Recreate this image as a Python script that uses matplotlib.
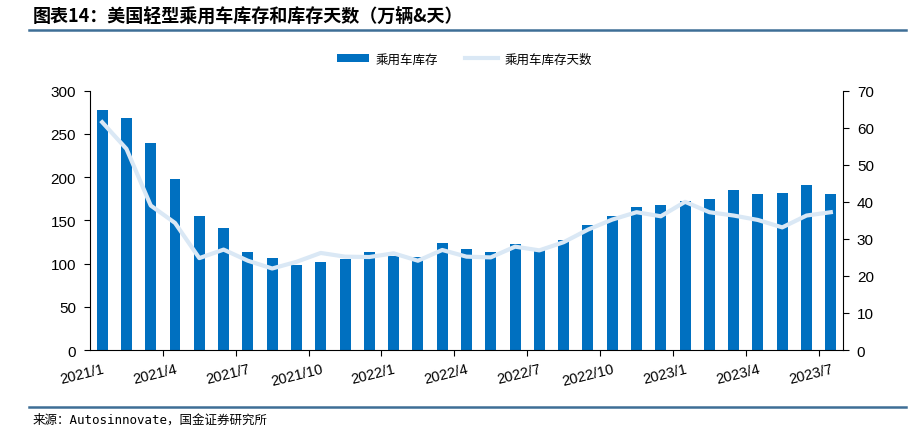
import matplotlib
matplotlib.use("Agg")
import matplotlib.pyplot as plt
import numpy as np

plt.rcParams['font.family'] = ['Liberation Sans', 'Noto Sans CJK SC', 'DejaVu Sans']

# 2021/1 - 2023/7, monthly
months = [f"{y}/{m}" for y in (2021, 2022, 2023) for m in range(1, 13)][:31]
inventory = [278, 268, 240, 198, 155, 141, 113, 106, 98, 102,
             105, 113, 109, 108, 124, 117, 113, 123, 116, 127,
             145, 155, 165, 168, 172, 175, 185, 181, 182, 191, 181]
days = [61.5, 54.3, 39.0, 34.3, 24.8, 27.1, 24.1, 22.0, 23.8, 26.2,
        25.2, 25.1, 26.1, 24.1, 27.0, 25.2, 25.0, 27.9, 26.9, 29.1,
        32.5, 35.2, 37.2, 36.1, 40.0, 37.2, 36.3, 35.1, 33.1, 36.3, 37.2]

bar_color = '#0070C0'
line_color = '#DAE8F5'
rule_color = '#3E6E96'

fig = plt.figure(figsize=(9.12, 4.35), dpi=100)
ax = fig.add_axes([0.0987, 0.1931, 0.8256, 0.5961])
ax2 = ax.twinx()

x = np.arange(len(months))
ax.bar(x, inventory, width=0.45, color=bar_color, label='乘用车库存', zorder=2)
ax2.plot(x, days, color=line_color, lw=3, label='乘用车库存天数', zorder=3)

ax.set_xlim(-0.5, len(months) - 0.5)
ax.set_ylim(0, 300)
ax.set_yticks(range(0, 301, 50))
ax2.set_ylim(0, 70)
ax2.set_yticks(range(0, 71, 10))

# labels every 3 months, ticks between categories
lab_idx = x[::3]
ax.set_xticks(lab_idx)
ax.set_xticklabels([months[i] for i in lab_idx], rotation=14, ha='right',
                   rotation_mode='anchor', fontsize=10.5)
ax.tick_params(axis='x', length=0, pad=8)
ax.set_xticks(lab_idx[1:] - 0.5, minor=True)
ax.tick_params(axis='x', which='minor', length=4, width=0.8)

for a in (ax, ax2):
    a.spines['top'].set_visible(False)
    a.tick_params(axis='y', labelsize=11, length=4, width=0.8, pad=6)
ax.spines['right'].set_visible(False)
ax2.spines['left'].set_visible(False)
ax2.spines['bottom'].set_visible(False)

# ax2 drawn above ax, keep bars below the line
ax.set_zorder(1)
ax2.set_zorder(2)
ax2.patch.set_visible(False)

h1, l1 = ax.get_legend_handles_labels()
h2, l2 = ax2.get_legend_handles_labels()
fig.legend(h1 + h2, l1 + l2, loc='center', bbox_to_anchor=(0.509, 0.862), ncol=2,
           frameon=False, handlelength=2.6, handleheight=0.6, handletextpad=0.5,
           columnspacing=2.2, prop={'family': ['Noto Sans CJK SC'], 'size': 9})

fig.text(0.036, 0.962, '图表14：美国轻型乘用车库存和库存天数（万辆&天）', fontsize=13,
         fontweight='bold', style='italic', va='center',
         family=['Noto Sans CJK SC', 'DejaVu Sans'])
fig.add_artist(plt.Line2D([0.032, 0.993], [0.928, 0.928], color=rule_color, lw=1.8))
fig.add_artist(plt.Line2D([0.032, 0.993], [0.062, 0.062], color=rule_color, lw=1.8))
fig.text(0.036, 0.033, '来源：Autosinnovate，国金证券研究所', fontsize=9, va='center',
         family=['DejaVu Sans Mono', 'Noto Sans CJK SC'])

fig.savefig('out.png', dpi=100)
